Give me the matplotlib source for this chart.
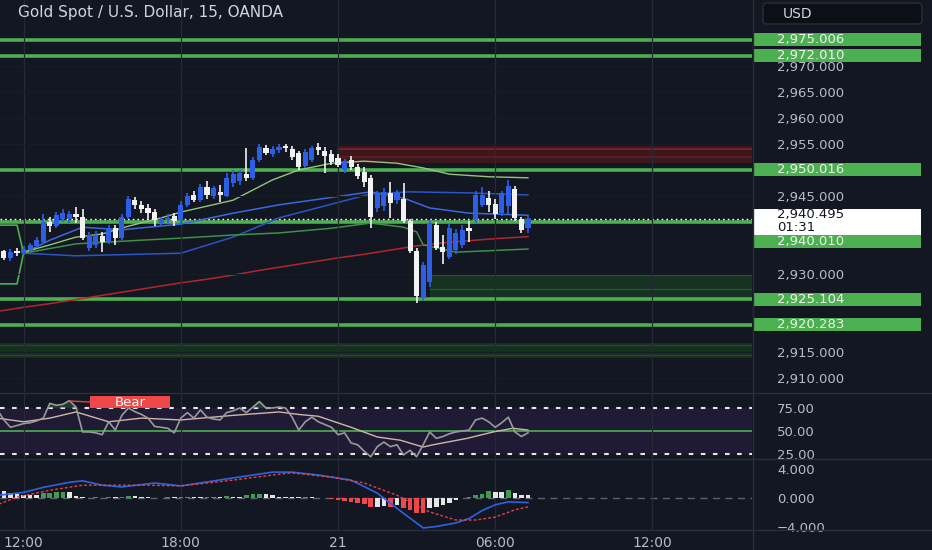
import numpy as np
import matplotlib
matplotlib.use("Agg")
import matplotlib.pyplot as plt
from matplotlib.patches import Rectangle, FancyBboxPatch
from matplotlib.lines import Line2D
from matplotlib.transforms import blended_transform_factory

BG = '#131722'
GRID = '#262a35'
TXT = '#b8bbc4'
GREEN = '#4caf50'
BLUE = '#2d5fe6'
WHITE = '#f2f2f2'

# 15 min bars, counted from 21st 00:00
bars = np.arange(-52, 30)
opens = [2936.5, 2934.4, 2933.1, 2934.4, 2934.0, 2934.7, 2935.4, 2936.2, 2940.0, 2939.2,
         2940.5, 2940.6, 2941.5, 2941.0, 2935.0, 2935.6, 2937.3, 2936.2, 2938.8, 2937.0,
         2941.0, 2944.2, 2943.3, 2942.6, 2942.0, 2939.8, 2940.4, 2941.2, 2940.3, 2943.2,
         2945.2, 2944.2, 2946.8, 2945.0, 2945.8, 2945.0, 2947.5, 2947.8, 2949.2, 2948.4,
         2952.0, 2954.2, 2953.0, 2953.8, 2954.6, 2954.0, 2953.2, 2950.8, 2952.0, 2954.5,
         2953.6, 2953.0, 2952.3, 2950.0, 2952.0, 2950.6, 2949.6, 2948.5, 2942.6, 2943.0,
         2945.5, 2944.2, 2944.4, 2940.2, 2934.5, 2925.4, 2928.5, 2939.4, 2935.2, 2933.3,
         2934.6, 2935.6, 2938.8, 2940.4, 2943.3, 2944.6, 2943.5, 2941.8, 2943.0, 2946.4,
         2940.5, 2938.8]
highs = [2937.0, 2934.6, 2934.8, 2935.0, 2935.3, 2936.0, 2937.2, 2941.5, 2941.0, 2942.0,
         2942.5, 2942.2, 2942.8, 2942.5, 2938.0, 2938.2, 2938.0, 2939.5, 2939.5, 2941.5,
         2945.0, 2944.8, 2944.0, 2943.5, 2942.5, 2941.0, 2941.5, 2941.8, 2944.0, 2945.5,
         2946.0, 2947.3, 2947.8, 2947.0, 2947.2, 2949.5, 2950.0, 2950.0, 2954.2, 2952.5,
         2955.0, 2954.8, 2954.6, 2955.0, 2955.0, 2954.6, 2953.6, 2954.0, 2954.6, 2955.2,
         2954.4, 2953.8, 2953.0, 2952.2, 2952.6, 2951.2, 2950.6, 2949.0, 2946.0, 2946.5,
         2947.6, 2946.2, 2947.5, 2940.6, 2935.0, 2932.4, 2940.4, 2940.0, 2937.5, 2939.6,
         2938.6, 2939.5, 2940.2, 2946.0, 2946.8, 2946.0, 2944.5, 2946.0, 2948.0, 2947.0,
         2941.0, 2941.2]
lows = [2933.8, 2932.6, 2932.5, 2933.5, 2933.6, 2934.2, 2935.0, 2935.8, 2938.0, 2938.8,
        2940.0, 2939.8, 2939.8, 2936.5, 2934.5, 2935.0, 2934.3, 2935.8, 2935.5, 2936.5,
        2940.5, 2942.5, 2941.8, 2940.3, 2939.2, 2939.2, 2939.8, 2939.3, 2939.5, 2942.8,
        2943.8, 2943.8, 2944.5, 2944.5, 2943.8, 2944.8, 2946.8, 2947.2, 2947.8, 2948.0,
        2951.5, 2952.8, 2952.5, 2953.3, 2953.5, 2952.0, 2950.0, 2950.4, 2951.5, 2952.8,
        2949.5, 2951.0, 2950.5, 2949.5, 2950.0, 2948.3, 2946.7, 2938.8, 2942.0, 2942.2,
        2940.8, 2943.5, 2939.8, 2934.0, 2924.5, 2924.8, 2927.5, 2934.6, 2932.0, 2932.8,
        2933.8, 2935.0, 2936.2, 2939.8, 2942.8, 2942.0, 2940.6, 2941.2, 2941.5, 2940.2,
        2937.8, 2937.9]
closes = [2934.2, 2933.0, 2934.3, 2934.0, 2934.8, 2935.5, 2936.6, 2940.0, 2939.2, 2941.3,
          2941.8, 2941.5, 2941.0, 2937.0, 2937.5, 2937.5, 2936.2, 2938.8, 2937.0, 2941.0,
          2944.5, 2943.2, 2942.5, 2941.8, 2940.3, 2940.5, 2940.8, 2940.2, 2943.3, 2945.0,
          2944.3, 2946.8, 2945.2, 2946.5, 2945.2, 2948.5, 2949.2, 2949.5, 2948.4, 2952.0,
          2954.5, 2953.2, 2954.0, 2954.5, 2954.2, 2952.5, 2950.6, 2953.5, 2954.2, 2953.8,
          2952.7, 2951.5, 2951.0, 2951.8, 2950.6, 2948.8, 2947.7, 2941.0, 2945.5, 2945.8,
          2943.6, 2945.6, 2940.2, 2934.5, 2925.8, 2931.7, 2939.8, 2935.0, 2934.3, 2938.8,
          2937.9, 2938.5, 2938.2, 2945.2, 2945.2, 2943.3, 2941.5, 2945.5, 2947.0, 2940.8,
          2938.4, 2940.495]

# moving averages (bar position, price)
red_k = [-52, -48, -44, -40, -36, -32, -28, -24, -20, -16, -12, -8, -4, 0, 4, 8, 12, 16, 20, 24, 28, 29]
red_ma = [2922.8, 2923.6, 2924.3, 2925.1, 2925.9, 2926.7, 2927.5, 2928.3, 2929.0, 2929.8, 2930.7,
          2931.5, 2932.3, 2933.1, 2933.8, 2934.6, 2935.4, 2936.0, 2936.4, 2936.8, 2937.1, 2937.2]
blue_fast_k = [-48, -44, -39, -33, -24, -16, -9, 5, 10, 14, 20, 29]
blue_fast = [2934.0, 2936.5, 2939.0, 2938.5, 2939.6, 2941.7, 2943.3, 2945.8, 2944.6, 2942.7, 2941.7, 2941.3]
blue_slow_k = [-48, -40, -24, -16, -9, 5, 11, 20, 29]
blue_slow = [2934.0, 2933.5, 2934.0, 2937.1, 2940.8, 2945.4, 2945.8, 2945.6, 2945.2]
green_fast_k = [-48, -44, -40, -36, -32, -27, -24, -16, -10, -6, -1, 4, 9, 13, 17, 23, 29]
green_fast = [2934.2, 2935.6, 2937.1, 2937.7, 2939.2, 2940.8, 2941.9, 2944.2, 2948.1, 2950.0,
              2951.3, 2951.7, 2951.3, 2950.4, 2949.2, 2948.7, 2948.5]
green_slow_k = [-48, -40, -33, -24, -16, -9, -1, 5, 10, 12, 13, 18, 29]
green_slow = [2934.0, 2935.8, 2936.3, 2936.9, 2937.5, 2937.9, 2938.8, 2939.8, 2939.0, 2938.1,
              2935.6, 2934.2, 2934.8]
env_k = [-52, -49, -48]
env_top = [2939.4, 2939.4, 2934.0]
env_bot = [2928.1, 2928.1, 2934.0]

levels = [2975.006, 2972.010, 2950.016, 2940.010, 2925.104, 2920.283]
current_price = 2940.495
countdown = '01:31'
# zones: (start bar, low, high)
supply_zone = (0, 2951.4, 2954.6)
demand_zone = (14, 2925.3, 2929.8)
low_zone = (-60, 2913.9, 2916.7)

rsi = [73, 62, 54, 56, 58, 59, 61, 64, 80, 78, 79, 83, 76, 49, 49, 48, 46, 60, 51, 67,
       75, 71, 68, 64, 55, 54, 53, 48, 64, 70, 64, 73, 65, 63, 62, 70, 72, 75, 70, 76,
       82, 75, 75, 76, 75, 65, 51, 60, 65, 60, 57, 54, 46, 48, 37, 35, 28, 22, 33, 38,
       33, 35, 24, 29, 22, 35, 49, 42, 44, 47, 49, 50, 51, 62, 64, 60, 54, 59, 65, 49,
       44, 48]
rsi_ma_k = [-52, -48, -44, -40, -35, -30, -24, -16, -9, -6, -3, 2, 6, 9.5, 13, 14.5, 19.7, 23.7, 26.7, 29]
rsi_ma = [64, 60, 64, 70.7, 60, 64, 62, 67, 70.7, 68, 66, 54, 43.5, 40, 32.6, 35, 42, 49, 53, 51]

hist = [1.27, 0.9, 0.6, 0.48, 0.35, 0.34, 0.32, 0.58, 0.67, 0.72, 0.8, 0.7, 0.25, 0.05, -0.05,
        0.05, -0.05, 0.05, 0.04, 0.1, 0.2, 0.15, 0.08, 0.04, -0.04, -0.05, 0.03, 0.03, 0.05, 0.1,
        0.1, 0.08, 0.1, 0.12, 0.1, 0.15, 0.12, 0.1, 0.35, 0.45, 0.48, 0.45, 0.35, 0.12, 0.06,
        0.05, 0.03, 0.04, 0.03, -0.03, -0.1, -0.2, -0.3, -0.5, -0.6, -0.7, -0.9, -1.3, -1.25,
        -1.2, -1.25, -1.1, -1.5, -1.7, -2.2, -2.2, -1.5, -1.3, -1.0, -0.7, -0.3, -0.05, 0.05,
        0.35, 0.55, 0.85, 0.75, 0.75, 1.0, 0.6, 0.35, 0.35]
macd_k = [-52, -48, -45, -41, -39, -36, -33, -28, -24, -16, -10, -7, -3, 2, 6, 9, 13, 15, 18, 20, 22, 24, 26, 29]
macd = [0.3, 0.7, 1.4, 2.1, 2.3, 1.7, 1.45, 2.0, 1.6, 2.7, 3.5, 3.5, 3.1, 2.4, 0.6, -1.5, -4.2,
        -4.0, -3.5, -2.9, -1.8, -1.0, -0.6, -0.7]
signal_k = [-52, -49, -44, -39, -36, -29, -24, -16, -10, -7, -1, 4, 9, 14, 18, 21, 24, 27, 29]
signal = [-1.0, 0.07, 1.0, 1.7, 1.7, 1.7, 1.6, 2.4, 3.1, 3.4, 2.8, 2.0, 0.3, -2.0, -3.1, -3.1,
          -2.7, -1.7, -1.3]

time_ticks = [-48, -24, 0, 24, 48]
time_labels = ['12:00', '18:00', '21', '06:00', '12:00']

W, H = 932, 550
fig = plt.figure(figsize=(W / 100, H / 100), dpi=100, facecolor=BG)


def pane(y0, y1):
    a = fig.add_axes([0, 1 - y1 / H, 752 / W, (y1 - y0) / H])
    a.set_facecolor(BG)
    for s in a.spines.values():
        s.set_visible(False)
    a.set_xlim(-51.6, 63.2)
    a.set_xticks(time_ticks)
    a.grid(axis='x', color=GRID, lw=0.9)
    a.yaxis.tick_right()
    a.tick_params(length=0, labelbottom=False, labelright=True, labelcolor=TXT,
                  labelsize=9.5, pad=18)
    return a


# ---------------- price pane ----------------
ax = pane(0, 392)
ax.set_ylim(2907.31, 2982.69)

tag_top = current_price + 2.0
tag_bot = current_price - 2.9
tag_ys = []
for lv in levels:
    y = lv
    if tag_bot - 1 < lv < tag_top + 1:
        y = tag_bot - 1.25
    tag_ys.append(y)

# axis labels hidden behind the price tags are left out
price_ticks = [t for t in np.arange(2910, 2985, 5)
               if t < 2979 and not (tag_bot - 1 < t < tag_top + 1)
               and all(abs(t - y) > 1.8 for y in tag_ys)]
ax.set_yticks(price_ticks)
ax.yaxis.set_major_formatter(lambda v, p: f"{v:,.3f}")
ax.grid(axis='y', color='#181c26', lw=0.8)

s, lo, hi = low_zone
ax.axhspan(lo, hi, color='#16301f', lw=0, zorder=0.5)
ax.axhline(hi - 0.3, color='#1f4a2b', lw=1, zorder=0.6)
ax.axhline(lo + 0.5, color='#1f4a2b', lw=1, zorder=0.6)
s, lo, hi = supply_zone
ax.add_patch(Rectangle((s, lo), 80, hi - lo, color='#3d171d', lw=0, zorder=0.5))
ax.plot([s, 80], [hi - 0.5, hi - 0.5], color='#7a2630', lw=1.2, zorder=0.6)
ax.plot([s, 80], [lo + 1.1, lo + 1.1], color='#5e2029', lw=1.2, zorder=0.6)
s, lo, hi = demand_zone
ax.add_patch(Rectangle((s, lo), 80, hi - lo, color='#173222', lw=0, zorder=0.5))
ax.plot([s, 80], [hi, hi], color='#24562f', lw=1, zorder=0.6)
ax.plot([s, 80], [lo + 1.8, lo + 1.8], color='#24562f', lw=1, zorder=0.6)

for lv in levels:
    ax.axhline(lv, color=GREEN, lw=2.6, zorder=1)
ax.axhline(current_price, color='white', lw=1, ls=(0, (1.2, 2.2)), zorder=1.2)

ax.plot(red_k, red_ma, color='#b3262f', lw=1.1, zorder=1.5)
ax.plot(blue_slow_k, blue_slow, color='#2a55c8', lw=1.1, zorder=1.5)
ax.plot(blue_fast_k, blue_fast, color='#3a68e0', lw=1.1, zorder=1.5)
ax.plot(green_slow_k, green_slow, color='#3f8f48', lw=1.1, zorder=1.5)
ax.plot(green_fast_k, green_fast, color='#93c47d', lw=1.0, zorder=1.5)
ax.plot(env_k, env_top, color=GREEN, lw=1.2, zorder=1.5)
ax.plot(env_k, env_bot, color=GREEN, lw=1.2, zorder=1.5)

o = np.array(opens)
c = np.array(closes)
hi_ = np.array(highs)
lo_ = np.array(lows)
cols = np.where(c >= o, BLUE, WHITE)
ax.vlines(bars, lo_, hi_, colors=cols, lw=1.2, zorder=3)
ax.bar(bars, np.maximum(np.abs(c - o), 0.4), bottom=np.minimum(o, c), width=0.78,
       color=cols, lw=0, zorder=3.1)

tr = blended_transform_factory(ax.transAxes, ax.transData)

ax.add_patch(Rectangle((754 / 752, tag_bot), 167 / 752, tag_top - tag_bot, transform=tr,
                       facecolor='white', edgecolor='none', clip_on=False, zorder=6))
ax.text(777 / 752, current_price + 0.95, f"{current_price:,.3f}", transform=tr, ha='left',
        va='center', color=BG, fontsize=9.5, zorder=7, clip_on=False)
ax.text(777 / 752, current_price - 1.6, countdown, transform=tr, ha='left', va='center',
        color=BG, fontsize=9.5, zorder=7, clip_on=False)
for lv, y in zip(levels, tag_ys):
    ax.add_patch(Rectangle((754 / 752, y - 1.25), 167 / 752, 2.5, transform=tr, facecolor=GREEN,
                           edgecolor='none', clip_on=False, zorder=6))
    ax.text(777 / 752, y, f"{lv:,.3f}", transform=tr, ha='left', va='center', color='#eef7ee',
            fontsize=9.5, zorder=7, clip_on=False)

# ---------------- RSI pane ----------------
ar = pane(393, 458)
ar.set_ylim(20.65, 91.3)
ar.set_yticks([25, 50, 75])
ar.yaxis.set_major_formatter(lambda v, p: f"{v:.2f}")
ar.axhspan(25, 75, color='#1f1b35', lw=0, zorder=0.5)
ar.axhline(75, color='#e6e6e6', lw=1.5, ls=(0, (2.2, 3.6)), zorder=1)
ar.axhline(25, color='#e6e6e6', lw=1.5, ls=(0, (2.2, 3.6)), zorder=1)
ar.axhline(50, color=GREEN, lw=1.2, zorder=1)
rv = np.array(rsi, dtype=float)
ar.fill_between(bars, rv, 75, where=rv > 75, interpolate=True, color='#2e6b36', alpha=0.45, lw=0)
ar.plot(rsi_ma_k, rsi_ma, color='#cdb8a8', lw=1.0, zorder=2)
ar.plot(bars, rv, color='#9a9a9a', lw=1.2, zorder=2.2)
ar.plot([-40.9, -37.9], [82.6, 81.5], color='#f23645', lw=1, zorder=2.3)
ar.add_patch(Rectangle((-37.9, 75.2), 12.3, 12.6, color='#f04848', lw=0, zorder=4))
ar.text(-31.7, 81.5, 'Bear', ha='center', va='center', color='white', fontsize=9.5, zorder=5)

# ---------------- MACD pane ----------------
am = pane(459, 530)
am.set_ylim(-4.48, 5.31)
am.set_yticks([-4, 0, 4])
am.yaxis.set_major_formatter(lambda v, p: f"{v:.3f}".replace('-', '\u2212'))
am.tick_params(labelbottom=True)
am.set_xticklabels(time_labels)
for lab in am.get_xticklabels():
    lab.set_fontsize(10)
am.tick_params(axis='x', pad=4)
am.axhline(0, color='#5d6070', lw=1, ls=(0, (5, 4)), zorder=1)
hv = np.array(hist)
prev = np.concatenate([[hv[0] + 0.4], hv[:-1]])
hcol = np.where(hv >= 0, np.where(hv > prev, '#3e9b4f', '#e4e4e4'),
                np.where(hv <= prev, '#f0474f', '#e4e4e4'))
am.bar(bars, hv, width=0.7, color=hcol, lw=0, zorder=2)
am.plot(macd_k, macd, color='#2f62e0', lw=1.2, zorder=3)
am.plot(signal_k, signal, color='#ef3f3f', lw=1.0, ls=(0, (2, 1.5)), zorder=3)

# ---------------- frame, header ----------------
for y in [392.5, 458.5, 530]:
    fig.add_artist(Line2D([0, 1], [1 - y / H, 1 - y / H], transform=fig.transFigure,
                          color='#2a2e39', lw=1))
fig.add_artist(Line2D([752.5 / W, 752.5 / W], [0, 1], transform=fig.transFigure,
                      color='#2a2e39', lw=1))
fig.text(18 / W, 1 - 12 / H, 'Gold Spot / U.S. Dollar, 15, OANDA', color='#d1d4dc',
         fontsize=11, va='center', ha='left')
usd = FancyBboxPatch((7.63, (H - 24) / 100), 1.59, 0.21, boxstyle='round,pad=0,rounding_size=0.04',
                     transform=fig.dpi_scale_trans, facecolor='#0c0f16', edgecolor='#2a2e39',
                     lw=1, zorder=5)
fig.add_artist(usd)
fig.text(783 / W, 1 - 13.5 / H, 'USD', color='#d1d4dc', fontsize=10, va='center', ha='left',
         zorder=6)

fig.savefig('out.png', dpi=100, facecolor=BG)
